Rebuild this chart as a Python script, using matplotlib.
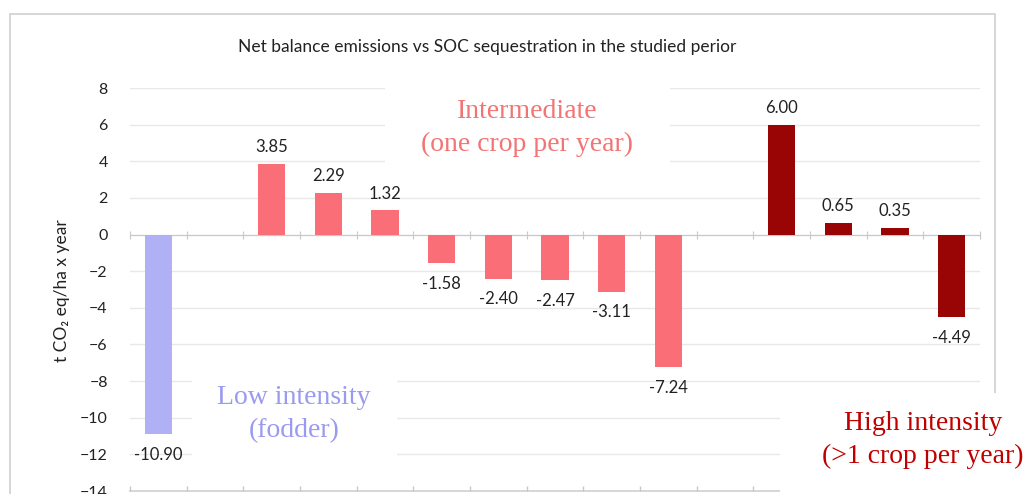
import numpy as np
import matplotlib.pyplot as plt
from matplotlib.patches import Rectangle

# Данные (пустые позиции - разделители групп)
values = [-10.90, np.nan, 3.85, 2.29, 1.32, -1.58, -2.40, -2.47, -3.11, -7.24,
          np.nan, 6.00, 0.65, 0.35, -4.49]
groups = ['low', '', 'mid', 'mid', 'mid', 'mid', 'mid', 'mid', 'mid', 'mid',
          '', 'high', 'high', 'high', 'high']
yticks = [8, 6, 4, 2, 0, -2, -4, -6, -8, -10, -12, -14]

title = 'Net balance emissions vs SOC sequestration in the studied perior'
ylabel = 't CO\u2082 eq/ha x year'
group_text = {
    'low': 'Low intensity\n(fodder)',
    'mid': 'Intermediate\n(one crop per year)',
    'high': 'High intensity\n(>1 crop per year)',
}

bar_colors = {'low': '#B0B0F5', 'mid': '#FA6E78', 'high': '#990505'}
text_colors = {'low': '#9A9AF0', 'mid': '#F27474', 'high': '#C00000'}

W, H = 1023, 494
fig = plt.figure(figsize=(W / 100, H / 100), dpi=100)
sans = ['Lato', 'DejaVu Sans']


def px(x, y):
    return x / W, 1 - y / H


# внешняя рамка диаграммы
fig.patches.append(Rectangle(px(10, 520), 985 / W, 506 / H, transform=fig.transFigure,
                             fill=False, ec='#D0D0D0', lw=1.2))

ax = fig.add_axes([130 / W, 1 - 491 / H, 850 / W, (491 - 88) / H])
x = np.arange(len(values))
vals = np.array(values, dtype=float)

ax.set_ylim(-14, 8)
ax.set_xlim(-0.5, len(values) - 0.5)
ax.set_yticks(yticks)
ax.yaxis.grid(True, color='#E8E8E8', lw=1)
ax.set_axisbelow(True)
for s in ['top', 'right', 'left']:
    ax.spines[s].set_visible(False)
ax.spines['bottom'].set_position(('data', 0))
ax.spines['bottom'].set_color('#C8C8C8')
ax.set_xticks(np.arange(-0.5, len(values), 1))
ax.set_xticklabels([])
ax.tick_params(axis='x', length=6, color='#C8C8C8', direction='inout')
ax.tick_params(axis='y', length=0, pad=16, labelsize=11.5, labelcolor='#222222')
for lab in ax.get_yticklabels():
    lab.set_family(sans)
# нижняя линия с засечками
ax.axhline(-14, color='#D0D0D0', lw=1.2, clip_on=False)
ax.vlines(np.arange(-0.5, len(values), 1), -14, -13.75, color='#C8C8C8', lw=1, clip_on=False)

cols = [bar_colors.get(g, 'none') for g in groups]
ax.bar(x, np.nan_to_num(vals), width=0.48, color=cols, zorder=3)

for xi, v in zip(x, vals):
    if np.isnan(v):
        continue
    off = 12 if v > 0 else -15
    ax.annotate(f'{v:.2f}', (xi, v), xytext=(0, off), textcoords='offset points',
                ha='center', va='center', fontsize=12, color='#222222', family=sans)

# белые подложки под подписи групп
for (x0, y0, x1, y1) in [(385, 80, 670, 183), (192, 362, 397, 465), (780, 393, 1030, 500)]:
    fig.patches.append(Rectangle(px(x0, y1), (x1 - x0) / W, (y1 - y0) / H,
                                 transform=fig.transFigure, fc='white', ec='none', zorder=5))

for g, (cx, cy) in {'mid': (527, 128), 'low': (294, 414), 'high': (923, 440)}.items():
    fig.text(*px(cx, cy), group_text[g], ha='center', va='center', fontsize=20,
             family='Liberation Serif', color=text_colors[g], linespacing=1.45, zorder=6)

fig.text(*px(487, 47), title, ha='center', va='center', fontsize=12.5, family=sans, color='#222222')
fig.text(*px(62, 291), ylabel, ha='center', va='center', rotation=90, fontsize=12.5,
         family=sans, color='#222222')

fig.savefig('out.png', dpi=100)
